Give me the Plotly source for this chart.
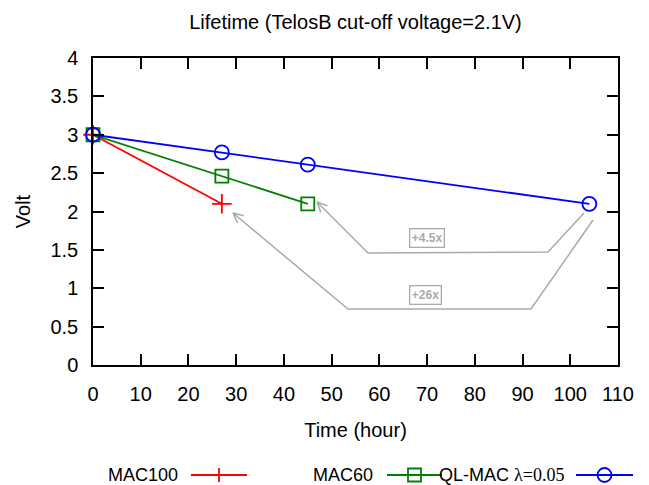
import math
import plotly.graph_objects as go

# ---- data ----
hours_mac100 = [0, 27]
volt_mac100 = [3.0, 2.1]
hours_mac60 = [0, 27, 45]
volt_mac60 = [3.0, 2.46, 2.1]
hours_qlmac = [0, 27, 45, 104]
volt_qlmac = [3.0, 2.77, 2.61, 2.1]
x_ticks = [0, 10, 20, 30, 40, 50, 60, 70, 80, 90, 100, 110]
y_ticks = [0, 0.5, 1, 1.5, 2, 2.5, 3, 3.5, 4]
y_tick_labels = ["0", "0.5", "1", "1.5", "2", "2.5", "3", "3.5", "4"]

# ---- layout geometry (reference pixel space; page has an 8px body margin) ----
OFF = 8
W, H = 649 - OFF, 485 - OFF
RL, RT = 93, 58           # plot-area top-left in reference pixels
PW, PH = 525, 307
L, T = RL - OFF, RT - OFF
R, B = W - L - PW, H - T - PH
XMAX, YMAX = 110, 4
FONT = "Liberation Sans, Arial, sans-serif"
GRAY = "#aaaaaa"


def p2d(px, py):
    return (px - RL) / PW * XMAX, (RT + PH - py) / PH * YMAX


def p2paper(px, py):
    return (px - RL) / PW, (RT + PH - py) / PH


fig = go.Figure()
fig.add_trace(go.Scatter(x=hours_mac100, y=volt_mac100, mode="lines+markers", name="MAC100",
                         line=dict(color="#ff0000", width=1.8),
                         marker=dict(symbol="cross-thin", size=14, line=dict(color="#ff0000", width=1.8)),
                         cliponaxis=False))
fig.add_trace(go.Scatter(x=hours_mac60, y=volt_mac60, mode="lines+markers", name="MAC60",
                         line=dict(color="#008000", width=1.8),
                         marker=dict(symbol="square-open", size=13, color="#008000", line=dict(width=1.8)),
                         cliponaxis=False))
fig.add_trace(go.Scatter(x=hours_qlmac, y=volt_qlmac, mode="lines+markers", name="QL-MAC",
                         line=dict(color="#0000ff", width=1.8),
                         marker=dict(symbol="circle-open", size=14, color="#0000ff", line=dict(width=1.8)),
                         cliponaxis=False))

shapes = []
annotations = []

# ---- gray arrows with open V heads ----
arrow_paths = [
    [(584, 213), (548, 252), (368, 253), (317, 202)],
    [(593, 220), (531, 309), (348, 309), (233, 213)],
]
for pts in arrow_paths:
    dpts = [p2d(*p) for p in pts]
    path = "M " + " L ".join(f"{x:.3f},{y:.4f}" for x, y in dpts)
    shapes.append(dict(type="path", path=path, xref="x", yref="y",
                       line=dict(color=GRAY, width=1.5)))
    (x1, y1), (x2, y2) = pts[-2], pts[-1]
    ang = math.atan2(y1 - y2, x1 - x2)
    for s in (-1, 1):
        a = ang + s * math.radians(25)
        hx, hy = x2 + 11 * math.cos(a), y2 + 11 * math.sin(a)
        p0 = p2d(hx, hy)
        p1 = p2d(x2, y2)
        shapes.append(dict(type="line", xref="x", yref="y", x0=p0[0], y0=p0[1], x1=p1[0], y1=p1[1],
                           line=dict(color=GRAY, width=1.5)))

labels = [("+4.5x", (427, 238)), ("+26x", (425, 295))]
for txt, (px, py) in labels:
    x, y = p2d(px, py)
    annotations.append(dict(x=x, y=y, xref="x", yref="y", text=f"<b>{txt}</b>", showarrow=False,
                            font=dict(family=FONT, size=12, color=GRAY),
                            bordercolor=GRAY, borderwidth=1.3, borderpad=1.5, bgcolor="white"))

# ---- gnuplot-style legend (text, then sample) ----
LEG_Y = 475
legend_items = [
    ("MAC100", 180, (191, 247), "#ff0000", "plus"),
    ("MAC60", 375, (387, 442), "#008000", "square"),
    ("QL-MAC <span style='font-family:Liberation Serif, Times New Roman, serif'>λ=0.05</span>", 566,
     (576, 633), "#0000ff", "circle"),
]
for text, tx, (lx0, lx1), col, mk in legend_items:
    ax, ay = p2paper(tx, LEG_Y)
    annotations.append(dict(x=ax, y=ay, xref="paper", yref="paper", text=text, showarrow=False,
                            xanchor="right", yanchor="middle",
                            font=dict(family=FONT, size=18, color="black")))
    a0 = p2paper(lx0, LEG_Y)
    a1 = p2paper(lx1, LEG_Y)
    shapes.append(dict(type="line", xref="paper", yref="paper", x0=a0[0], y0=a0[1], x1=a1[0], y1=a1[1],
                       line=dict(color=col, width=1.8)))
    cx = (lx0 + lx1) / 2
    r = 7
    if mk == "plus":
        for (qx0, qy0, qx1, qy1) in [(cx - r, LEG_Y, cx + r, LEG_Y), (cx, LEG_Y - r, cx, LEG_Y + r)]:
            b0 = p2paper(qx0, qy0)
            b1 = p2paper(qx1, qy1)
            shapes.append(dict(type="line", xref="paper", yref="paper", x0=b0[0], y0=b0[1],
                               x1=b1[0], y1=b1[1], line=dict(color=col, width=1.8)))
    else:
        rr = 6.5 if mk == "square" else 7
        b0 = p2paper(cx - rr, LEG_Y + rr)
        b1 = p2paper(cx + rr, LEG_Y - rr)
        shapes.append(dict(type="rect" if mk == "square" else "circle", xref="paper", yref="paper",
                           x0=b0[0], y0=b0[1], x1=b1[0], y1=b1[1],
                           line=dict(color=col, width=1.8), fillcolor="rgba(0,0,0,0)"))

axis_common = dict(showline=True, linecolor="black", linewidth=1.5, mirror="ticks",
                   ticks="inside", ticklen=11, tickwidth=1.5, tickcolor="black",
                   showgrid=False, zeroline=False,
                   tickfont=dict(family=FONT, size=20, color="black"))

fig.update_layout(
    width=W, height=H,
    margin=dict(l=L, r=R, t=T, b=B),
    plot_bgcolor="white", paper_bgcolor="white",
    showlegend=False,
    title=dict(text="Lifetime (TelosB cut-off voltage=2.1V)", x=(L + PW / 2) / W, xanchor="center",
               y=1 - (22 - OFF) / H, yanchor="middle", font=dict(family=FONT, size=20, color="black")),
    xaxis=dict(range=[0, XMAX], tickvals=x_ticks, ticklabelstandoff=10,
               title=dict(text="Time (hour)", font=dict(family=FONT, size=20, color="black"), standoff=19),
               **axis_common),
    yaxis=dict(range=[0, YMAX], tickvals=y_ticks, ticktext=y_tick_labels, ticklabelstandoff=9,
               title=dict(text="Volt", font=dict(family=FONT, size=20, color="black"), standoff=14),
               **axis_common),
    shapes=shapes,
    annotations=annotations,
)

fig.write_html("out.html")
